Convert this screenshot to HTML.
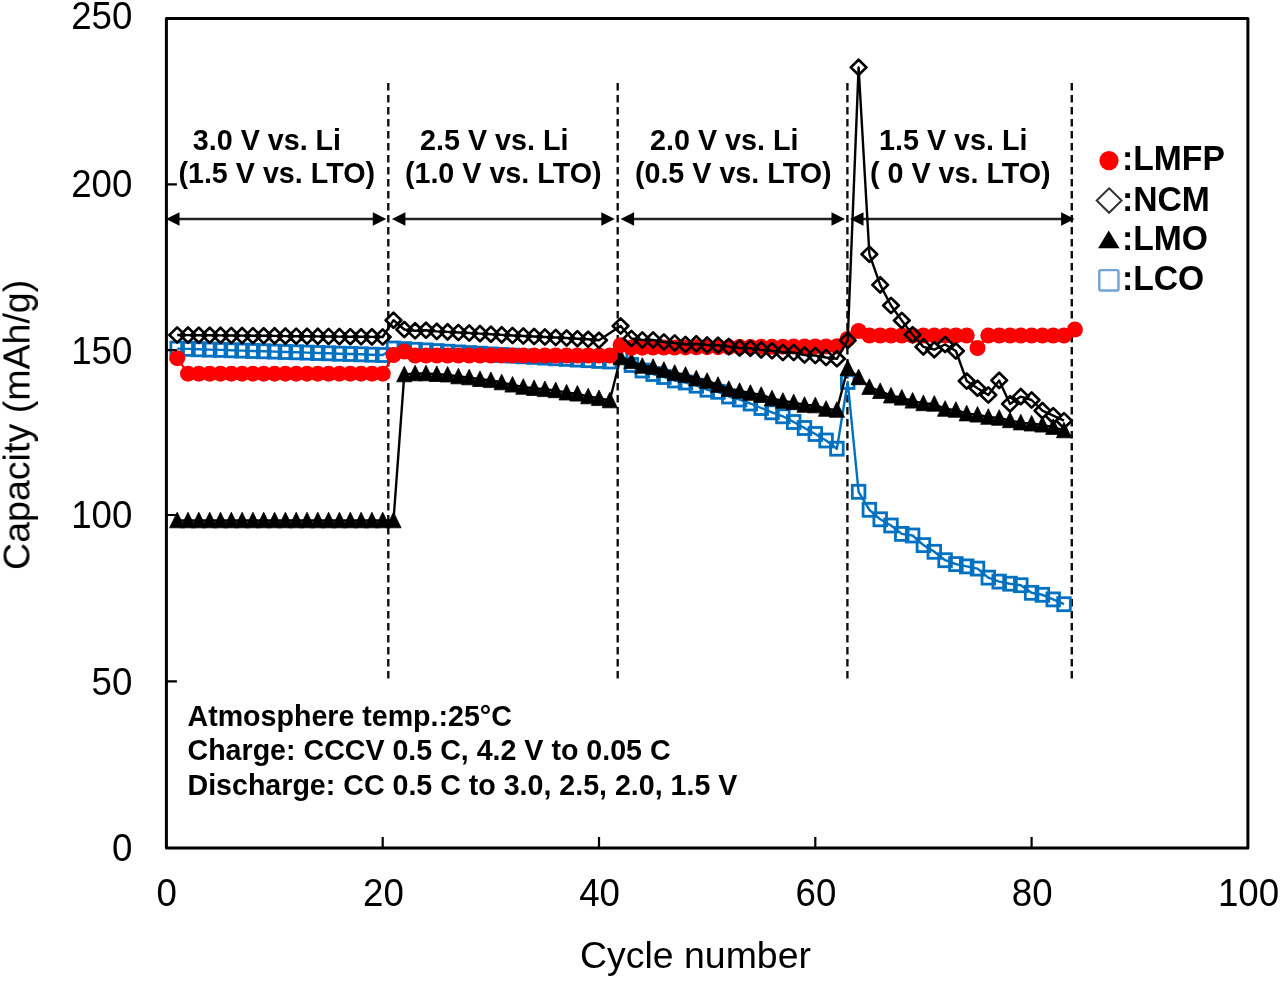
<!DOCTYPE html>
<html><head><meta charset="utf-8"><title>Capacity vs cycle number</title>
<style>
html,body{margin:0;padding:0;background:#fff;}
svg{display:block;}
text{font-family:"Liberation Sans",sans-serif;fill:#000;}
.tk{font-size:38px;}
.tt{font-size:37.6px;}
.an{font-size:28.7px;font-weight:bold;}
.lg{font-size:33.7px;font-weight:bold;}
.nt{font-size:28.6px;font-weight:bold;}
</style></head>
<body>
<svg width="1280" height="982" viewBox="0 0 1280 982">
<defs><filter id="soft" x="0" y="0" width="1280" height="982" filterUnits="userSpaceOnUse"><feGaussianBlur stdDeviation="0.7"/></filter></defs>
<rect width="1280" height="982" fill="#fff"/>
<g filter="url(#soft)">
<path d="M388.3,83V679 M617.7,83V679 M847.4,83V679 M1071.8,83V679" stroke="#111" stroke-width="2.4" stroke-dasharray="7.5 4.5" fill="none"/>
<path d="M174.0,219.0H378.3" stroke="#222" stroke-width="2.4"/>
<path d="M166.0,219.0L179.5,212.2V225.8Z M386.3,219.0L372.8,212.2V225.8Z" fill="#000"/>
<path d="M399.9,219.0H606.8" stroke="#222" stroke-width="2.4"/>
<path d="M391.9,219.0L405.4,212.2V225.8Z M614.8,219.0L601.3,212.2V225.8Z" fill="#000"/>
<path d="M628.6,219.0H837.0" stroke="#222" stroke-width="2.4"/>
<path d="M620.6,219.0L634.1,212.2V225.8Z M845.0,219.0L831.5,212.2V225.8Z" fill="#000"/>
<path d="M858.0,219.0H1066.6" stroke="#222" stroke-width="2.4"/>
<path d="M850.0,219.0L863.5,212.2V225.8Z M1074.6,219.0L1061.1,212.2V225.8Z" fill="#000"/>
<text x="192.8" y="149.5" class="an">3.0 V vs. Li</text>
<text x="178.4" y="183.3" class="an">(1.5 V vs. LTO)</text>
<text x="420.1" y="149.5" class="an">2.5 V vs. Li</text>
<text x="404.9" y="183.3" class="an">(1.0 V vs. LTO)</text>
<text x="650.1" y="149.5" class="an">2.0 V vs. Li</text>
<text x="634.9" y="183.3" class="an">(0.5 V vs. LTO)</text>
<text x="879.1" y="149.5" class="an">1.5 V vs. Li</text>
<text x="870.0" y="183.3" class="an">( 0 V vs. LTO)</text>
<g id="lco">
<polyline points="177.2,348.6 188,348.9 198.8,349.3 209.7,349.6 220.5,349.9 231.3,350.3 242.1,350.6 252.9,351 263.7,351.3 274.6,351.6 285.4,352 296.2,352.3 307,352.6 317.8,353 328.6,353.3 339.4,353.7 350.3,354 361.1,354.3 371.9,354.7 382.7,355 393.5,348.5 404.3,349.1 415.1,349.8 426,350.4 436.8,351.1 447.6,351.8 458.4,352.4 469.2,353.1 480,353.7 490.9,354.4 501.7,355 512.5,355.6 523.3,356.3 534.1,356.9 544.9,357.6 555.7,358.2 566.6,358.9 577.4,359.6 588.2,360.2 599,360.9 609.8,361.5 620.6,356 631.4,365 642.3,370.5 653.1,374 663.9,377 674.7,380.5 685.5,382.5 696.3,385.7 707.1,389.7 718,391.8 728.8,396.5 739.6,399.5 750.4,403.5 761.2,408 772,412.3 782.9,416.3 793.7,422 804.5,428 815.3,434 826.1,440.5 836.9,448.7 847.7,382 858.6,491.8 869.4,509.8 880.2,519.3 891,525.5 901.8,533.9 912.6,535.5 923.4,545.1 934.3,551.8 945.1,560.2 955.9,564.1 966.7,566.4 977.5,568.6 988.3,577.6 999.2,581.6 1010,583.7 1020.8,585.2 1031.6,592.8 1042.4,594.8 1053.2,599.4 1064,604.2" fill="none" stroke="#0070c0" stroke-width="2.4" stroke-linejoin="round"/>
<rect x="170.9" y="342.1" width="12.6" height="13" fill="none" stroke="#0070c0" stroke-width="2.8"/>
<rect x="181.7" y="342.4" width="12.6" height="13" fill="none" stroke="#0070c0" stroke-width="2.8"/>
<rect x="192.5" y="342.8" width="12.6" height="13" fill="none" stroke="#0070c0" stroke-width="2.8"/>
<rect x="203.4" y="343.1" width="12.6" height="13" fill="none" stroke="#0070c0" stroke-width="2.8"/>
<rect x="214.2" y="343.4" width="12.6" height="13" fill="none" stroke="#0070c0" stroke-width="2.8"/>
<rect x="225" y="343.8" width="12.6" height="13" fill="none" stroke="#0070c0" stroke-width="2.8"/>
<rect x="235.8" y="344.1" width="12.6" height="13" fill="none" stroke="#0070c0" stroke-width="2.8"/>
<rect x="246.6" y="344.5" width="12.6" height="13" fill="none" stroke="#0070c0" stroke-width="2.8"/>
<rect x="257.4" y="344.8" width="12.6" height="13" fill="none" stroke="#0070c0" stroke-width="2.8"/>
<rect x="268.2" y="345.1" width="12.6" height="13" fill="none" stroke="#0070c0" stroke-width="2.8"/>
<rect x="279.1" y="345.5" width="12.6" height="13" fill="none" stroke="#0070c0" stroke-width="2.8"/>
<rect x="289.9" y="345.8" width="12.6" height="13" fill="none" stroke="#0070c0" stroke-width="2.8"/>
<rect x="300.7" y="346.1" width="12.6" height="13" fill="none" stroke="#0070c0" stroke-width="2.8"/>
<rect x="311.5" y="346.5" width="12.6" height="13" fill="none" stroke="#0070c0" stroke-width="2.8"/>
<rect x="322.3" y="346.8" width="12.6" height="13" fill="none" stroke="#0070c0" stroke-width="2.8"/>
<rect x="333.1" y="347.2" width="12.6" height="13" fill="none" stroke="#0070c0" stroke-width="2.8"/>
<rect x="344" y="347.5" width="12.6" height="13" fill="none" stroke="#0070c0" stroke-width="2.8"/>
<rect x="354.8" y="347.8" width="12.6" height="13" fill="none" stroke="#0070c0" stroke-width="2.8"/>
<rect x="365.6" y="348.2" width="12.6" height="13" fill="none" stroke="#0070c0" stroke-width="2.8"/>
<rect x="376.4" y="348.5" width="12.6" height="13" fill="none" stroke="#0070c0" stroke-width="2.8"/>
<rect x="387.2" y="342" width="12.6" height="13" fill="none" stroke="#0070c0" stroke-width="2.8"/>
<rect x="398" y="342.6" width="12.6" height="13" fill="none" stroke="#0070c0" stroke-width="2.8"/>
<rect x="408.8" y="343.3" width="12.6" height="13" fill="none" stroke="#0070c0" stroke-width="2.8"/>
<rect x="419.7" y="343.9" width="12.6" height="13" fill="none" stroke="#0070c0" stroke-width="2.8"/>
<rect x="430.5" y="344.6" width="12.6" height="13" fill="none" stroke="#0070c0" stroke-width="2.8"/>
<rect x="441.3" y="345.2" width="12.6" height="13" fill="none" stroke="#0070c0" stroke-width="2.8"/>
<rect x="452.1" y="345.9" width="12.6" height="13" fill="none" stroke="#0070c0" stroke-width="2.8"/>
<rect x="462.9" y="346.6" width="12.6" height="13" fill="none" stroke="#0070c0" stroke-width="2.8"/>
<rect x="473.7" y="347.2" width="12.6" height="13" fill="none" stroke="#0070c0" stroke-width="2.8"/>
<rect x="484.6" y="347.9" width="12.6" height="13" fill="none" stroke="#0070c0" stroke-width="2.8"/>
<rect x="495.4" y="348.5" width="12.6" height="13" fill="none" stroke="#0070c0" stroke-width="2.8"/>
<rect x="506.2" y="349.1" width="12.6" height="13" fill="none" stroke="#0070c0" stroke-width="2.8"/>
<rect x="517" y="349.8" width="12.6" height="13" fill="none" stroke="#0070c0" stroke-width="2.8"/>
<rect x="527.8" y="350.4" width="12.6" height="13" fill="none" stroke="#0070c0" stroke-width="2.8"/>
<rect x="538.6" y="351.1" width="12.6" height="13" fill="none" stroke="#0070c0" stroke-width="2.8"/>
<rect x="549.4" y="351.8" width="12.6" height="13" fill="none" stroke="#0070c0" stroke-width="2.8"/>
<rect x="560.3" y="352.4" width="12.6" height="13" fill="none" stroke="#0070c0" stroke-width="2.8"/>
<rect x="571.1" y="353.1" width="12.6" height="13" fill="none" stroke="#0070c0" stroke-width="2.8"/>
<rect x="581.9" y="353.7" width="12.6" height="13" fill="none" stroke="#0070c0" stroke-width="2.8"/>
<rect x="592.7" y="354.4" width="12.6" height="13" fill="none" stroke="#0070c0" stroke-width="2.8"/>
<rect x="603.5" y="355" width="12.6" height="13" fill="none" stroke="#0070c0" stroke-width="2.8"/>
<rect x="614.3" y="349.5" width="12.6" height="13" fill="none" stroke="#0070c0" stroke-width="2.8"/>
<rect x="625.1" y="358.5" width="12.6" height="13" fill="none" stroke="#0070c0" stroke-width="2.8"/>
<rect x="636" y="364" width="12.6" height="13" fill="none" stroke="#0070c0" stroke-width="2.8"/>
<rect x="646.8" y="367.5" width="12.6" height="13" fill="none" stroke="#0070c0" stroke-width="2.8"/>
<rect x="657.6" y="370.5" width="12.6" height="13" fill="none" stroke="#0070c0" stroke-width="2.8"/>
<rect x="668.4" y="374" width="12.6" height="13" fill="none" stroke="#0070c0" stroke-width="2.8"/>
<rect x="679.2" y="376" width="12.6" height="13" fill="none" stroke="#0070c0" stroke-width="2.8"/>
<rect x="690" y="379.2" width="12.6" height="13" fill="none" stroke="#0070c0" stroke-width="2.8"/>
<rect x="700.9" y="383.2" width="12.6" height="13" fill="none" stroke="#0070c0" stroke-width="2.8"/>
<rect x="711.7" y="385.3" width="12.6" height="13" fill="none" stroke="#0070c0" stroke-width="2.8"/>
<rect x="722.5" y="390" width="12.6" height="13" fill="none" stroke="#0070c0" stroke-width="2.8"/>
<rect x="733.3" y="393" width="12.6" height="13" fill="none" stroke="#0070c0" stroke-width="2.8"/>
<rect x="744.1" y="397" width="12.6" height="13" fill="none" stroke="#0070c0" stroke-width="2.8"/>
<rect x="754.9" y="401.5" width="12.6" height="13" fill="none" stroke="#0070c0" stroke-width="2.8"/>
<rect x="765.7" y="405.8" width="12.6" height="13" fill="none" stroke="#0070c0" stroke-width="2.8"/>
<rect x="776.6" y="409.8" width="12.6" height="13" fill="none" stroke="#0070c0" stroke-width="2.8"/>
<rect x="787.4" y="415.5" width="12.6" height="13" fill="none" stroke="#0070c0" stroke-width="2.8"/>
<rect x="798.2" y="421.5" width="12.6" height="13" fill="none" stroke="#0070c0" stroke-width="2.8"/>
<rect x="809" y="427.5" width="12.6" height="13" fill="none" stroke="#0070c0" stroke-width="2.8"/>
<rect x="819.8" y="434" width="12.6" height="13" fill="none" stroke="#0070c0" stroke-width="2.8"/>
<rect x="830.6" y="442.2" width="12.6" height="13" fill="none" stroke="#0070c0" stroke-width="2.8"/>
<rect x="841.4" y="375.5" width="12.6" height="13" fill="none" stroke="#0070c0" stroke-width="2.8"/>
<rect x="852.3" y="485.3" width="12.6" height="13" fill="none" stroke="#0070c0" stroke-width="2.8"/>
<rect x="863.1" y="503.3" width="12.6" height="13" fill="none" stroke="#0070c0" stroke-width="2.8"/>
<rect x="873.9" y="512.8" width="12.6" height="13" fill="none" stroke="#0070c0" stroke-width="2.8"/>
<rect x="884.7" y="519" width="12.6" height="13" fill="none" stroke="#0070c0" stroke-width="2.8"/>
<rect x="895.5" y="527.4" width="12.6" height="13" fill="none" stroke="#0070c0" stroke-width="2.8"/>
<rect x="906.3" y="529" width="12.6" height="13" fill="none" stroke="#0070c0" stroke-width="2.8"/>
<rect x="917.1" y="538.6" width="12.6" height="13" fill="none" stroke="#0070c0" stroke-width="2.8"/>
<rect x="928" y="545.3" width="12.6" height="13" fill="none" stroke="#0070c0" stroke-width="2.8"/>
<rect x="938.8" y="553.7" width="12.6" height="13" fill="none" stroke="#0070c0" stroke-width="2.8"/>
<rect x="949.6" y="557.6" width="12.6" height="13" fill="none" stroke="#0070c0" stroke-width="2.8"/>
<rect x="960.4" y="559.9" width="12.6" height="13" fill="none" stroke="#0070c0" stroke-width="2.8"/>
<rect x="971.2" y="562.1" width="12.6" height="13" fill="none" stroke="#0070c0" stroke-width="2.8"/>
<rect x="982" y="571.1" width="12.6" height="13" fill="none" stroke="#0070c0" stroke-width="2.8"/>
<rect x="992.9" y="575.1" width="12.6" height="13" fill="none" stroke="#0070c0" stroke-width="2.8"/>
<rect x="1003.7" y="577.2" width="12.6" height="13" fill="none" stroke="#0070c0" stroke-width="2.8"/>
<rect x="1014.5" y="578.7" width="12.6" height="13" fill="none" stroke="#0070c0" stroke-width="2.8"/>
<rect x="1025.3" y="586.3" width="12.6" height="13" fill="none" stroke="#0070c0" stroke-width="2.8"/>
<rect x="1036.1" y="588.3" width="12.6" height="13" fill="none" stroke="#0070c0" stroke-width="2.8"/>
<rect x="1046.9" y="592.9" width="12.6" height="13" fill="none" stroke="#0070c0" stroke-width="2.8"/>
<rect x="1057.7" y="597.7" width="12.6" height="13" fill="none" stroke="#0070c0" stroke-width="2.8"/>
</g>
<g id="lmo">
<polyline points="177.2,520.5 188,520.5 198.8,520.5 209.7,520.5 220.5,520.5 231.3,520.5 242.1,520.5 252.9,520.5 263.7,520.5 274.6,520.5 285.4,520.5 296.2,520.5 307,520.5 317.8,520.5 328.6,520.5 339.4,520.5 350.3,520.5 361.1,520.5 371.9,520.5 382.7,520.5 393.5,520.5 404.3,374.5 415.1,373.5 426,373.5 436.8,374.2 447.6,374.7 458.4,376.5 469.2,377.5 480,379.2 490.9,380.3 501.7,382.5 512.5,384.8 523.3,387 534.1,388.2 544.9,389.3 555.7,390.4 566.6,392.7 577.4,393.8 588.2,396.5 599,398.3 609.8,400.5 620.6,357.5 631.4,361.3 642.3,366 653.1,367 663.9,370 674.7,373 685.5,375 696.3,378.5 707.1,381 718,385 728.8,389 739.6,391 750.4,393 761.2,395 772,398.5 782.9,401 793.7,402.4 804.5,405 815.3,405.5 826.1,409 836.9,410 847.7,368.2 858.6,377.4 869.4,387.1 880.2,391.2 891,395.7 901.8,397.8 912.6,400.8 923.4,403.4 934.3,403.9 945.1,409 955.9,410 966.7,413.6 977.5,414.8 988.3,417 999.2,418 1010,420.4 1020.8,422.6 1031.6,423.7 1042.4,424.8 1053.2,427.1 1064,430.5" fill="none" stroke="#000" stroke-width="2.4" stroke-linejoin="round"/>
<path d="M177.2,512.2L184.8,527.8L169.6,527.8ZM188,512.2L195.6,527.8L180.4,527.8ZM198.8,512.2L206.4,527.8L191.2,527.8ZM209.7,512.2L217.3,527.8L202.1,527.8ZM220.5,512.2L228.1,527.8L212.9,527.8ZM231.3,512.2L238.9,527.8L223.7,527.8ZM242.1,512.2L249.7,527.8L234.5,527.8ZM252.9,512.2L260.5,527.8L245.3,527.8ZM263.7,512.2L271.3,527.8L256.1,527.8ZM274.6,512.2L282.2,527.8L266.9,527.8ZM285.4,512.2L293,527.8L277.8,527.8ZM296.2,512.2L303.8,527.8L288.6,527.8ZM307,512.2L314.6,527.8L299.4,527.8ZM317.8,512.2L325.4,527.8L310.2,527.8ZM328.6,512.2L336.2,527.8L321,527.8ZM339.4,512.2L347,527.8L331.8,527.8ZM350.3,512.2L357.9,527.8L342.7,527.8ZM361.1,512.2L368.7,527.8L353.5,527.8ZM371.9,512.2L379.5,527.8L364.3,527.8ZM382.7,512.2L390.3,527.8L375.1,527.8ZM393.5,512.2L401.1,527.8L385.9,527.8ZM404.3,366.2L411.9,381.8L396.7,381.8ZM415.1,365.2L422.7,380.8L407.5,380.8ZM426,365.2L433.6,380.8L418.4,380.8ZM436.8,365.9L444.4,381.5L429.2,381.5ZM447.6,366.4L455.2,382L440,382ZM458.4,368.2L466,383.8L450.8,383.8ZM469.2,369.2L476.8,384.8L461.6,384.8ZM480,370.9L487.6,386.5L472.4,386.5ZM490.9,372L498.5,387.6L483.2,387.6ZM501.7,374.2L509.3,389.8L494.1,389.8ZM512.5,376.5L520.1,392.1L504.9,392.1ZM523.3,378.7L530.9,394.3L515.7,394.3ZM534.1,379.9L541.7,395.5L526.5,395.5ZM544.9,381L552.5,396.6L537.3,396.6ZM555.7,382.1L563.3,397.7L548.1,397.7ZM566.6,384.4L574.2,400L559,400ZM577.4,385.5L585,401.1L569.8,401.1ZM588.2,388.2L595.8,403.8L580.6,403.8ZM599,390L606.6,405.6L591.4,405.6ZM609.8,392.2L617.4,407.8L602.2,407.8ZM620.6,349.2L628.2,364.8L613,364.8ZM631.4,353L639,368.6L623.8,368.6ZM642.3,357.7L649.9,373.3L634.7,373.3ZM653.1,358.7L660.7,374.3L645.5,374.3ZM663.9,361.7L671.5,377.3L656.3,377.3ZM674.7,364.7L682.3,380.3L667.1,380.3ZM685.5,366.7L693.1,382.3L677.9,382.3ZM696.3,370.2L703.9,385.8L688.7,385.8ZM707.1,372.7L714.8,388.3L699.5,388.3ZM718,376.7L725.6,392.3L710.4,392.3ZM728.8,380.7L736.4,396.3L721.2,396.3ZM739.6,382.7L747.2,398.3L732,398.3ZM750.4,384.7L758,400.3L742.8,400.3ZM761.2,386.7L768.8,402.3L753.6,402.3ZM772,390.2L779.6,405.8L764.4,405.8ZM782.9,392.7L790.5,408.3L775.3,408.3ZM793.7,394.1L801.3,409.7L786.1,409.7ZM804.5,396.7L812.1,412.3L796.9,412.3ZM815.3,397.2L822.9,412.8L807.7,412.8ZM826.1,400.7L833.7,416.3L818.5,416.3ZM836.9,401.7L844.5,417.3L829.3,417.3ZM847.7,359.9L855.3,375.5L840.1,375.5ZM858.6,369.1L866.2,384.7L851,384.7ZM869.4,378.8L877,394.4L861.8,394.4ZM880.2,382.9L887.8,398.5L872.6,398.5ZM891,387.4L898.6,403L883.4,403ZM901.8,389.5L909.4,405.1L894.2,405.1ZM912.6,392.5L920.2,408.1L905,408.1ZM923.4,395.1L931,410.7L915.8,410.7ZM934.3,395.6L941.9,411.2L926.7,411.2ZM945.1,400.7L952.7,416.3L937.5,416.3ZM955.9,401.7L963.5,417.3L948.3,417.3ZM966.7,405.3L974.3,420.9L959.1,420.9ZM977.5,406.5L985.1,422.1L969.9,422.1ZM988.3,408.7L995.9,424.3L980.7,424.3ZM999.2,409.7L1006.8,425.3L991.6,425.3ZM1010,412.1L1017.6,427.7L1002.4,427.7ZM1020.8,414.3L1028.4,429.9L1013.2,429.9ZM1031.6,415.4L1039.2,431L1024,431ZM1042.4,416.5L1050,432.1L1034.8,432.1ZM1053.2,418.8L1060.8,434.4L1045.6,434.4ZM1064,422.2L1071.6,437.8L1056.4,437.8Z" fill="#000" stroke="#000" stroke-width="0.8" stroke-linejoin="round"/>
</g>
<g id="lmfp">
<polyline points="177.2,358.2 188,373.7 198.8,373.7 209.7,373.7 220.5,373.7 231.3,373.7 242.1,373.7 252.9,373.7 263.7,373.7 274.6,373.7 285.4,373.7 296.2,373.7 307,373.7 317.8,373.7 328.6,373.7 339.4,373.7 350.3,373.7 361.1,373.7 371.9,373.7 382.7,373.7 393.5,355 404.3,351.5 415.1,355.5 426,355.5 436.8,355.5 447.6,355.5 458.4,355.5 469.2,355.5 480,355.5 490.9,355.5 501.7,355.5 512.5,355.5 523.3,355.5 534.1,355.5 544.9,355.5 555.7,355.5 566.6,355.5 577.4,355.5 588.2,355.5 599,355.5 609.8,355.5 620.6,345.2 631.4,347.8 642.3,347.7 653.1,347.6 663.9,347.6 674.7,347.5 685.5,347.4 696.3,347.3 707.1,347.2 718,347.2 728.8,347.1 739.6,347 750.4,346.9 761.2,346.8 772,346.8 782.9,346.7 793.7,346.6 804.5,346.5 815.3,346.4 826.1,346.4 836.9,346.3 847.7,339 858.6,331 869.4,335.5 880.2,335.5 891,335.5 901.8,335.5 912.6,335.5 923.4,335.5 934.3,335.5 945.1,335.5 955.9,335.5 966.7,335.5 977.5,348 988.3,335.5 999.2,335.5 1010,335.5 1020.8,335.5 1031.6,335.5 1042.4,335.5 1053.2,335.5 1064,335.5 1074.9,329.5" fill="none" stroke="#ff0000" stroke-width="2.2" stroke-linejoin="round"/>
<circle cx="177.2" cy="358.2" r="8" fill="#ff0000"/>
<circle cx="188" cy="373.7" r="8" fill="#ff0000"/>
<circle cx="198.8" cy="373.7" r="8" fill="#ff0000"/>
<circle cx="209.7" cy="373.7" r="8" fill="#ff0000"/>
<circle cx="220.5" cy="373.7" r="8" fill="#ff0000"/>
<circle cx="231.3" cy="373.7" r="8" fill="#ff0000"/>
<circle cx="242.1" cy="373.7" r="8" fill="#ff0000"/>
<circle cx="252.9" cy="373.7" r="8" fill="#ff0000"/>
<circle cx="263.7" cy="373.7" r="8" fill="#ff0000"/>
<circle cx="274.6" cy="373.7" r="8" fill="#ff0000"/>
<circle cx="285.4" cy="373.7" r="8" fill="#ff0000"/>
<circle cx="296.2" cy="373.7" r="8" fill="#ff0000"/>
<circle cx="307" cy="373.7" r="8" fill="#ff0000"/>
<circle cx="317.8" cy="373.7" r="8" fill="#ff0000"/>
<circle cx="328.6" cy="373.7" r="8" fill="#ff0000"/>
<circle cx="339.4" cy="373.7" r="8" fill="#ff0000"/>
<circle cx="350.3" cy="373.7" r="8" fill="#ff0000"/>
<circle cx="361.1" cy="373.7" r="8" fill="#ff0000"/>
<circle cx="371.9" cy="373.7" r="8" fill="#ff0000"/>
<circle cx="382.7" cy="373.7" r="8" fill="#ff0000"/>
<circle cx="393.5" cy="355" r="8" fill="#ff0000"/>
<circle cx="404.3" cy="351.5" r="8" fill="#ff0000"/>
<circle cx="415.1" cy="355.5" r="8" fill="#ff0000"/>
<circle cx="426" cy="355.5" r="8" fill="#ff0000"/>
<circle cx="436.8" cy="355.5" r="8" fill="#ff0000"/>
<circle cx="447.6" cy="355.5" r="8" fill="#ff0000"/>
<circle cx="458.4" cy="355.5" r="8" fill="#ff0000"/>
<circle cx="469.2" cy="355.5" r="8" fill="#ff0000"/>
<circle cx="480" cy="355.5" r="8" fill="#ff0000"/>
<circle cx="490.9" cy="355.5" r="8" fill="#ff0000"/>
<circle cx="501.7" cy="355.5" r="8" fill="#ff0000"/>
<circle cx="512.5" cy="355.5" r="8" fill="#ff0000"/>
<circle cx="523.3" cy="355.5" r="8" fill="#ff0000"/>
<circle cx="534.1" cy="355.5" r="8" fill="#ff0000"/>
<circle cx="544.9" cy="355.5" r="8" fill="#ff0000"/>
<circle cx="555.7" cy="355.5" r="8" fill="#ff0000"/>
<circle cx="566.6" cy="355.5" r="8" fill="#ff0000"/>
<circle cx="577.4" cy="355.5" r="8" fill="#ff0000"/>
<circle cx="588.2" cy="355.5" r="8" fill="#ff0000"/>
<circle cx="599" cy="355.5" r="8" fill="#ff0000"/>
<circle cx="609.8" cy="355.5" r="8" fill="#ff0000"/>
<circle cx="620.6" cy="345.2" r="8" fill="#ff0000"/>
<circle cx="631.4" cy="347.8" r="8" fill="#ff0000"/>
<circle cx="642.3" cy="347.7" r="8" fill="#ff0000"/>
<circle cx="653.1" cy="347.6" r="8" fill="#ff0000"/>
<circle cx="663.9" cy="347.6" r="8" fill="#ff0000"/>
<circle cx="674.7" cy="347.5" r="8" fill="#ff0000"/>
<circle cx="685.5" cy="347.4" r="8" fill="#ff0000"/>
<circle cx="696.3" cy="347.3" r="8" fill="#ff0000"/>
<circle cx="707.1" cy="347.2" r="8" fill="#ff0000"/>
<circle cx="718" cy="347.2" r="8" fill="#ff0000"/>
<circle cx="728.8" cy="347.1" r="8" fill="#ff0000"/>
<circle cx="739.6" cy="347" r="8" fill="#ff0000"/>
<circle cx="750.4" cy="346.9" r="8" fill="#ff0000"/>
<circle cx="761.2" cy="346.8" r="8" fill="#ff0000"/>
<circle cx="772" cy="346.8" r="8" fill="#ff0000"/>
<circle cx="782.9" cy="346.7" r="8" fill="#ff0000"/>
<circle cx="793.7" cy="346.6" r="8" fill="#ff0000"/>
<circle cx="804.5" cy="346.5" r="8" fill="#ff0000"/>
<circle cx="815.3" cy="346.4" r="8" fill="#ff0000"/>
<circle cx="826.1" cy="346.4" r="8" fill="#ff0000"/>
<circle cx="836.9" cy="346.3" r="8" fill="#ff0000"/>
<circle cx="847.7" cy="339" r="8" fill="#ff0000"/>
<circle cx="858.6" cy="331" r="8" fill="#ff0000"/>
<circle cx="869.4" cy="335.5" r="8" fill="#ff0000"/>
<circle cx="880.2" cy="335.5" r="8" fill="#ff0000"/>
<circle cx="891" cy="335.5" r="8" fill="#ff0000"/>
<circle cx="901.8" cy="335.5" r="8" fill="#ff0000"/>
<circle cx="912.6" cy="335.5" r="8" fill="#ff0000"/>
<circle cx="923.4" cy="335.5" r="8" fill="#ff0000"/>
<circle cx="934.3" cy="335.5" r="8" fill="#ff0000"/>
<circle cx="945.1" cy="335.5" r="8" fill="#ff0000"/>
<circle cx="955.9" cy="335.5" r="8" fill="#ff0000"/>
<circle cx="966.7" cy="335.5" r="8" fill="#ff0000"/>
<circle cx="977.5" cy="348" r="8" fill="#ff0000"/>
<circle cx="988.3" cy="335.5" r="8" fill="#ff0000"/>
<circle cx="999.2" cy="335.5" r="8" fill="#ff0000"/>
<circle cx="1010" cy="335.5" r="8" fill="#ff0000"/>
<circle cx="1020.8" cy="335.5" r="8" fill="#ff0000"/>
<circle cx="1031.6" cy="335.5" r="8" fill="#ff0000"/>
<circle cx="1042.4" cy="335.5" r="8" fill="#ff0000"/>
<circle cx="1053.2" cy="335.5" r="8" fill="#ff0000"/>
<circle cx="1064" cy="335.5" r="8" fill="#ff0000"/>
<circle cx="1074.9" cy="329.5" r="8" fill="#ff0000"/>
</g>
<g id="ncm">
<polyline points="177.2,335 188,335.1 198.8,335.2 209.7,335.3 220.5,335.4 231.3,335.5 242.1,335.6 252.9,335.7 263.7,335.8 274.6,335.9 285.4,336.1 296.2,336.2 307,336.3 317.8,336.4 328.6,336.5 339.4,336.6 350.3,336.7 361.1,336.8 371.9,336.9 382.7,337 393.5,320.2 404.3,329.5 415.1,330.8 426,330.3 436.8,331.4 447.6,331.9 458.4,332.5 469.2,333 480,333.6 490.9,334.2 501.7,334.9 512.5,335.5 523.3,336 534.1,336.5 544.9,337 555.7,337.5 566.6,338 577.4,338.7 588.2,339.3 599,340.3 620.6,326 631.4,338.5 642.3,340 653.1,340 663.9,342 674.7,343 685.5,344.5 696.3,343.9 707.1,345 718,345.2 728.8,346.6 739.6,348 750.4,348.2 761.2,349.9 772,350.8 782.9,352.5 793.7,352.5 804.5,355 815.3,355.5 826.1,357.5 836.9,358.8 847.7,340.4 858.6,67.4 869.4,254.2 880.2,284.9 891,305.5 901.8,320.5 912.6,334.7 923.4,346.9 934.3,349.7 945.1,344.5 955.9,351 966.7,381 977.5,388.2 988.3,395 999.2,380.4 1010,403.9 1020.8,396.6 1031.6,400 1042.4,410.6 1053.2,415.7 1064,420.7" fill="none" stroke="#000" stroke-width="2.4" stroke-linejoin="round"/>
<path d="M177.2,327.4L185,335L177.2,342.6L169.4,335ZM188,327.5L195.8,335.1L188,342.7L180.2,335.1ZM198.8,327.6L206.6,335.2L198.8,342.8L191,335.2ZM209.7,327.7L217.5,335.3L209.7,342.9L201.9,335.3ZM220.5,327.8L228.3,335.4L220.5,343L212.7,335.4ZM231.3,327.9L239.1,335.5L231.3,343.1L223.5,335.5ZM242.1,328L249.9,335.6L242.1,343.2L234.3,335.6ZM252.9,328.1L260.7,335.7L252.9,343.3L245.1,335.7ZM263.7,328.2L271.5,335.8L263.7,343.4L255.9,335.8ZM274.6,328.3L282.4,335.9L274.6,343.5L266.8,335.9ZM285.4,328.5L293.2,336.1L285.4,343.7L277.6,336.1ZM296.2,328.6L304,336.2L296.2,343.8L288.4,336.2ZM307,328.7L314.8,336.3L307,343.9L299.2,336.3ZM317.8,328.8L325.6,336.4L317.8,344L310,336.4ZM328.6,328.9L336.4,336.5L328.6,344.1L320.8,336.5ZM339.4,329L347.2,336.6L339.4,344.2L331.6,336.6ZM350.3,329.1L358.1,336.7L350.3,344.3L342.5,336.7ZM361.1,329.2L368.9,336.8L361.1,344.4L353.3,336.8ZM371.9,329.3L379.7,336.9L371.9,344.5L364.1,336.9ZM382.7,329.4L390.5,337L382.7,344.6L374.9,337ZM393.5,312.6L401.3,320.2L393.5,327.8L385.7,320.2ZM404.3,321.9L412.1,329.5L404.3,337.1L396.5,329.5ZM415.1,323.2L422.9,330.8L415.1,338.4L407.3,330.8ZM426,322.7L433.8,330.3L426,337.9L418.2,330.3ZM436.8,323.8L444.6,331.4L436.8,339L429,331.4ZM447.6,324.3L455.4,331.9L447.6,339.5L439.8,331.9ZM458.4,324.9L466.2,332.5L458.4,340.1L450.6,332.5ZM469.2,325.4L477,333L469.2,340.6L461.4,333ZM480,326L487.8,333.6L480,341.2L472.2,333.6ZM490.9,326.6L498.7,334.2L490.9,341.8L483.1,334.2ZM501.7,327.3L509.5,334.9L501.7,342.5L493.9,334.9ZM512.5,327.9L520.3,335.5L512.5,343.1L504.7,335.5ZM523.3,328.4L531.1,336L523.3,343.6L515.5,336ZM534.1,328.9L541.9,336.5L534.1,344.1L526.3,336.5ZM544.9,329.4L552.7,337L544.9,344.6L537.1,337ZM555.7,329.9L563.5,337.5L555.7,345.1L547.9,337.5ZM566.6,330.4L574.4,338L566.6,345.6L558.8,338ZM577.4,331.1L585.2,338.7L577.4,346.3L569.6,338.7ZM588.2,331.7L596,339.3L588.2,346.9L580.4,339.3ZM599,332.7L606.8,340.3L599,347.9L591.2,340.3ZM620.6,318.4L628.4,326L620.6,333.6L612.8,326ZM631.4,330.9L639.2,338.5L631.4,346.1L623.6,338.5ZM642.3,332.4L650.1,340L642.3,347.6L634.5,340ZM653.1,332.4L660.9,340L653.1,347.6L645.3,340ZM663.9,334.4L671.7,342L663.9,349.6L656.1,342ZM674.7,335.4L682.5,343L674.7,350.6L666.9,343ZM685.5,336.9L693.3,344.5L685.5,352.1L677.7,344.5ZM696.3,336.3L704.1,343.9L696.3,351.5L688.5,343.9ZM707.1,337.4L714.9,345L707.1,352.6L699.4,345ZM718,337.6L725.8,345.2L718,352.8L710.2,345.2ZM728.8,339L736.6,346.6L728.8,354.2L721,346.6ZM739.6,340.4L747.4,348L739.6,355.6L731.8,348ZM750.4,340.6L758.2,348.2L750.4,355.8L742.6,348.2ZM761.2,342.3L769,349.9L761.2,357.5L753.4,349.9ZM772,343.2L779.8,350.8L772,358.4L764.2,350.8ZM782.9,344.9L790.7,352.5L782.9,360.1L775.1,352.5ZM793.7,344.9L801.5,352.5L793.7,360.1L785.9,352.5ZM804.5,347.4L812.3,355L804.5,362.6L796.7,355ZM815.3,347.9L823.1,355.5L815.3,363.1L807.5,355.5ZM826.1,349.9L833.9,357.5L826.1,365.1L818.3,357.5ZM836.9,351.2L844.7,358.8L836.9,366.4L829.1,358.8ZM847.7,332.8L855.5,340.4L847.7,348L839.9,340.4ZM858.6,59.8L866.4,67.4L858.6,75L850.8,67.4ZM869.4,246.6L877.2,254.2L869.4,261.8L861.6,254.2ZM880.2,277.3L888,284.9L880.2,292.5L872.4,284.9ZM891,297.9L898.8,305.5L891,313.1L883.2,305.5ZM901.8,312.9L909.6,320.5L901.8,328.1L894,320.5ZM912.6,327.1L920.4,334.7L912.6,342.3L904.8,334.7ZM923.4,339.3L931.2,346.9L923.4,354.5L915.6,346.9ZM934.3,342.1L942.1,349.7L934.3,357.3L926.5,349.7ZM945.1,336.9L952.9,344.5L945.1,352.1L937.3,344.5ZM955.9,343.4L963.7,351L955.9,358.6L948.1,351ZM966.7,373.4L974.5,381L966.7,388.6L958.9,381ZM977.5,380.6L985.3,388.2L977.5,395.8L969.7,388.2ZM988.3,387.4L996.1,395L988.3,402.6L980.5,395ZM999.2,372.8L1007,380.4L999.2,388L991.4,380.4ZM1010,396.3L1017.8,403.9L1010,411.5L1002.2,403.9ZM1020.8,389L1028.6,396.6L1020.8,404.2L1013,396.6ZM1031.6,392.4L1039.4,400L1031.6,407.6L1023.8,400ZM1042.4,403L1050.2,410.6L1042.4,418.2L1034.6,410.6ZM1053.2,408.1L1061,415.7L1053.2,423.3L1045.4,415.7ZM1064,413.1L1071.8,420.7L1064,428.3L1056.2,420.7Z" fill="none" stroke="#000" stroke-width="2.7" stroke-linejoin="round"/>
</g>
<rect x="166.4" y="18.5" width="1081.5" height="829.5" fill="none" stroke="#000" stroke-width="3" stroke-linejoin="round"/>
<path d="M166.4,184.3H176.9 M166.4,350.1H176.9 M166.4,515.0H176.9 M166.4,681.4H176.9 M382.7,848.0V837.0 M599.0,848.0V837.0 M815.3,848.0V837.0 M1031.6,848.0V837.0" stroke="#000" stroke-width="2.2" fill="none"/>
<text transform="translate(132.3,28.7) scale(0.965,1)" text-anchor="end" class="tk">250</text>
<text transform="translate(132.3,197.3) scale(0.965,1)" text-anchor="end" class="tk">200</text>
<text transform="translate(132.3,363.8) scale(0.965,1)" text-anchor="end" class="tk">150</text>
<text transform="translate(132.3,528.3) scale(0.965,1)" text-anchor="end" class="tk">100</text>
<text transform="translate(132.3,694.7) scale(0.965,1)" text-anchor="end" class="tk">50</text>
<text transform="translate(132.3,861.0) scale(0.965,1)" text-anchor="end" class="tk">0</text>
<text transform="translate(166.6,905.5) scale(0.965,1)" text-anchor="middle" class="tk">0</text>
<text transform="translate(383.4,905.5) scale(0.965,1)" text-anchor="middle" class="tk">20</text>
<text transform="translate(599.6,905.5) scale(0.965,1)" text-anchor="middle" class="tk">40</text>
<text transform="translate(815.9,905.5) scale(0.965,1)" text-anchor="middle" class="tk">60</text>
<text transform="translate(1032.2,905.5) scale(0.965,1)" text-anchor="middle" class="tk">80</text>
<text transform="translate(1248.5,905.5) scale(0.965,1)" text-anchor="middle" class="tk">100</text>

<circle cx="1109" cy="160.6" r="9.6" fill="#ff0000"/>
<path d="M1109.1,188.3L1121.6,200.5L1109.1,212.8L1096.7,200.5Z" fill="none" stroke="#333" stroke-width="2"/>
<path d="M1108.7,230.5L1119.5,248.3H1098.1Z" fill="#000"/>
<rect x="1099.3" y="270.1" width="19.2" height="20.4" rx="1.5" fill="none" stroke="#6fa3d6" stroke-width="2.4"/>
<text transform="translate(1122,169.8) scale(1,1.045)" class="lg">:LMFP</text>
<text transform="translate(1122,210.5) scale(1,1.045)" class="lg">:NCM</text>
<text transform="translate(1122,250.2) scale(1,1.045)" class="lg">:LMO</text>
<text transform="translate(1122,290) scale(1,1.045)" class="lg">:LCO</text>


<text x="187.5" y="725.5" class="nt">Atmosphere temp.:25°C</text>
<text x="187.5" y="760.2" class="nt">Charge: CCCV 0.5 C, 4.2 V to 0.05 C</text>
<text x="187.5" y="794.5" class="nt">Discharge: CC 0.5 C to 3.0, 2.5, 2.0, 1.5 V</text>


<text x="580" y="967.5" class="tt" textLength="231" lengthAdjust="spacingAndGlyphs">Cycle number</text>
<text transform="translate(29.5,570) rotate(-90)" class="tt">Capacity (mAh/g)</text>

</g>
</svg>
</body></html>
